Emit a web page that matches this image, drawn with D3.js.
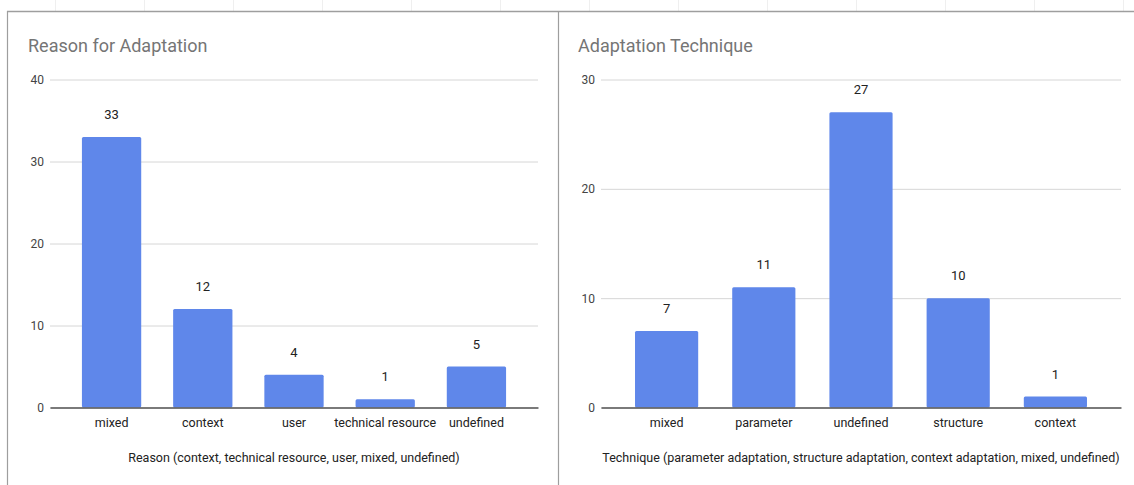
<!DOCTYPE html>
<html>
<head>
<meta charset="utf-8">
<script src="https://cdn.jsdelivr.net/npm/d3@7/dist/d3.min.js"></script>
<style>
  html, body { margin: 0; padding: 0; background: #fff; }
  svg { display: block; font-family: Roboto, Arial, sans-serif; }
</style>
</head>
<body>
<svg id="chart" width="1134" height="485"></svg>
<script>
// Reason for Adaptation
const reasonCategories = ["mixed", "context", "user", "technical resource", "undefined"];
const reasonCounts = [33, 12, 4, 1, 5];
const reasonTicks = [0, 10, 20, 30, 40];

// Adaptation Technique
const techniqueCategories = ["mixed", "parameter", "undefined", "structure", "context"];
const techniqueCounts = [7, 11, 27, 10, 1];
const techniqueTicks = [0, 10, 20, 30];

const svg = d3.select("#chart");
const barColor = "#5f87ea";

// spreadsheet frame: header rule, column separators, chart borders
const colLines = d3.range(55, 1134, 89);
svg.selectAll("line.col").data(colLines).enter().append("line")
  .attr("x1", d => d + 0.5).attr("x2", d => d + 0.5).attr("y1", 0).attr("y2", 11)
  .attr("stroke", "#efefef").attr("stroke-width", 1);
svg.append("line").attr("x1", 7).attr("x2", 1134).attr("y1", 11.5).attr("y2", 11.5)
  .attr("stroke", "#9e9e9e").attr("stroke-width", 1.5);
svg.append("line").attr("x1", 7.5).attr("x2", 7.5).attr("y1", 11).attr("y2", 485)
  .attr("stroke", "#9e9e9e").attr("stroke-width", 1.2);
svg.append("line").attr("x1", 558.5).attr("x2", 558.5).attr("y1", 11).attr("y2", 485)
  .attr("stroke", "#9e9e9e").attr("stroke-width", 1.2);

function drawChart(cfg) {
  const g = svg.append("g");
  const x = d3.scaleBand().domain(cfg.categories).range([cfg.x0, cfg.x1]).padding(0.35);
  const y = d3.scaleLinear().domain([0, d3.max(cfg.ticks)]).range([407.5, 79.5]);

  // title
  g.append("text").attr("x", cfg.titleX).attr("y", 52)
    .attr("font-size", 18).attr("fill", "#757575").text(cfg.title);

  // horizontal gridlines with value labels
  const yAxis = d3.axisLeft(y).tickValues(cfg.ticks).tickSize(-(cfg.x1 - cfg.x0)).tickPadding(6)
    .tickFormat(d3.format("d"));
  const ya = g.append("g").attr("transform", `translate(${cfg.x0},0)`).call(yAxis);
  ya.select(".domain").remove();
  ya.selectAll(".tick line").attr("stroke", "#d6d6d6").attr("stroke-width", 1);
  ya.selectAll(".tick text").attr("font-size", 12).attr("fill", "#444")
    .attr("font-family", "Roboto, Arial, sans-serif");

  // bars
  g.selectAll("rect.bar").data(cfg.values).enter().append("rect")
    .attr("class", "bar")
    .attr("x", (d, i) => x(cfg.categories[i]))
    .attr("width", x.bandwidth())
    .attr("y", d => y(d))
    .attr("height", d => y(0) - y(d))
    .attr("rx", 1.5)
    .attr("fill", barColor);

  // value labels above bars
  g.selectAll("text.val").data(cfg.values).enter().append("text")
    .attr("class", "val")
    .attr("x", (d, i) => x(cfg.categories[i]) + x.bandwidth() / 2)
    .attr("y", d => y(d) - 18)
    .attr("text-anchor", "middle").attr("font-size", 13).attr("fill", "#222")
    .text(d => d);

  // baseline and category labels
  const xAxis = d3.axisBottom(x).tickSize(0).tickPadding(11);
  const xa = g.append("g").attr("transform", `translate(0,${y(0)})`).call(xAxis);
  xa.select(".domain").attr("stroke", "#555").attr("stroke-width", 1.5);
  xa.selectAll(".tick text").attr("font-size", 12.5).attr("fill", "#222")
    .attr("font-family", "Roboto, Arial, sans-serif");

  // axis title
  g.append("text").attr("x", (cfg.x0 + cfg.x1) / 2).attr("y", 462)
    .attr("text-anchor", "middle").attr("font-size", 12.5).attr("fill", "#222")
    .text(cfg.axisTitle);
}

drawChart({
  title: "Reason for Adaptation", titleX: 28,
  categories: reasonCategories, values: reasonCounts, ticks: reasonTicks,
  x0: 50, x1: 538,
  axisTitle: "Reason (context, technical resource, user, mixed, undefined)"
});

drawChart({
  title: "Adaptation Technique", titleX: 578,
  categories: techniqueCategories, values: techniqueCounts, ticks: techniqueTicks,
  x0: 601, x1: 1121,
  axisTitle: "Technique (parameter adaptation, structure adaptation, context adaptation, mixed, undefined)"
});
</script>
</body>
</html>
